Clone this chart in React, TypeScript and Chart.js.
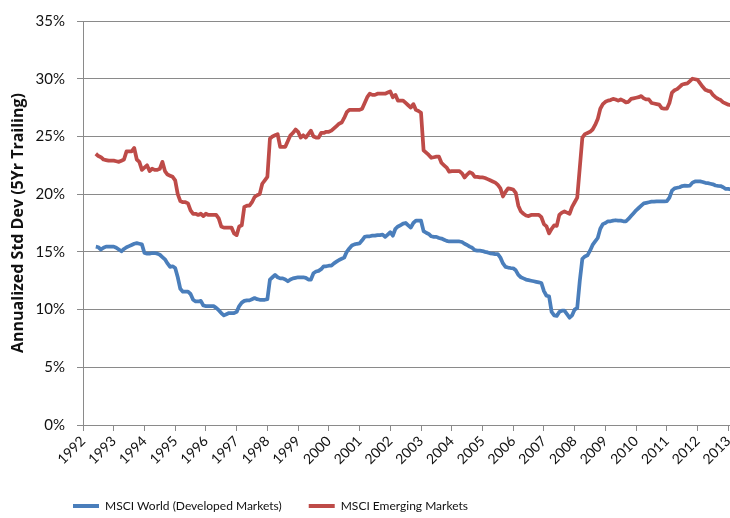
import React, { useEffect, useRef } from "react";
import { Chart, registerables } from "chart.js";

Chart.register(...registerables);

// Monthly series, first value = June 1992 (month index 5 counted from Jan 1992)
const startYear = 1992;
const startMonthIndex = 5;

const worldValues: number[] = [
  15.45, 15.4, 15.2, 15.35, 15.45, 15.45, 15.45, 15.45, 15.35, 15.2,
  15.05, 15.25, 15.4, 15.5, 15.6, 15.7, 15.75, 15.7, 15.65, 14.9,
  14.85, 14.85, 14.9, 14.9, 14.85, 14.75, 14.55, 14.35, 14.0, 13.7,
  13.75, 13.6, 12.8, 11.8, 11.55, 11.55, 11.55, 11.35, 10.85, 10.7,
  10.7, 10.75, 10.35, 10.3, 10.3, 10.3, 10.3, 10.15, 9.95, 9.7,
  9.5, 9.6, 9.7, 9.7, 9.7, 9.8, 10.3, 10.6, 10.75, 10.8,
  10.8, 10.9, 11.0, 10.9, 10.85, 10.85, 10.85, 10.9, 12.6, 12.8,
  13.0, 12.8, 12.7, 12.7, 12.6, 12.45, 12.6, 12.7, 12.75, 12.8,
  12.8, 12.8, 12.75, 12.6, 12.6, 13.15, 13.3, 13.35, 13.5, 13.75,
  13.75, 13.8, 13.8, 14.0, 14.15, 14.3, 14.4, 14.5, 15.0, 15.3,
  15.55, 15.65, 15.7, 15.73, 16.0, 16.3, 16.35, 16.35, 16.4, 16.4,
  16.45, 16.45, 16.5, 16.3, 16.5, 16.7, 16.4, 17.0, 17.2, 17.3,
  17.45, 17.5, 17.3, 17.1, 17.5, 17.7, 17.7, 17.7, 16.8, 16.65,
  16.55, 16.35, 16.3, 16.3, 16.2, 16.15, 16.05, 15.95, 15.9, 15.9,
  15.9, 15.9, 15.9, 15.85, 15.7, 15.6, 15.45, 15.35, 15.15, 15.1,
  15.1, 15.07, 15.0, 14.95, 14.87, 14.85, 14.8, 14.8, 14.5, 14.0,
  13.7, 13.64, 13.6, 13.58, 13.4, 13.0, 12.8, 12.7, 12.6, 12.55,
  12.5, 12.45, 12.4, 12.35, 12.3, 11.6, 11.2, 11.15, 9.8, 9.5,
  9.45, 9.8, 9.9, 9.9, 9.6, 9.3, 9.5, 10.0, 10.14, 12.5,
  14.4, 14.6, 14.7, 15.1, 15.6, 15.9, 16.2, 17.0, 17.4, 17.5,
  17.65, 17.65, 17.7, 17.74, 17.7, 17.7, 17.65, 17.65, 17.85, 18.1,
  18.35, 18.6, 18.8, 19.0, 19.2, 19.25, 19.3, 19.35, 19.35, 19.37,
  19.37, 19.37, 19.37, 19.4, 19.7, 20.3, 20.5, 20.55, 20.6, 20.7,
  20.74, 20.72, 20.74, 21.0, 21.1, 21.1, 21.1, 21.05, 20.98, 20.95,
  20.9, 20.85, 20.75, 20.72, 20.7, 20.6, 20.45, 20.45, 20.4,
];

const emergingValues: number[] = [
  23.5, 23.3, 23.2, 23.0, 22.95, 22.9, 22.9, 22.9, 22.85, 22.8,
  22.9, 23.0, 23.7, 23.7, 23.7, 24.0, 23.0, 22.8, 22.1, 22.3,
  22.5, 22.0, 22.2, 22.1, 22.1, 22.2, 22.8, 22.0, 21.7, 21.6,
  21.5, 21.2, 20.0, 19.4, 19.3, 19.3, 19.2, 18.6, 18.3, 18.3,
  18.2, 18.3, 18.1, 18.3, 18.2, 18.2, 18.2, 18.2, 17.9, 17.2,
  17.1, 17.1, 17.1, 17.1, 16.6, 16.45, 17.2, 17.3, 18.9, 19.0,
  19.0, 19.3, 19.75, 19.9, 20.0, 20.9, 21.2, 21.5, 24.8, 25.0,
  25.1, 25.2, 24.1, 24.1, 24.1, 24.6, 25.1, 25.3, 25.6, 25.4,
  24.9, 25.1, 24.9, 25.2, 25.5, 25.0, 24.9, 24.9, 25.3, 25.3,
  25.4, 25.4, 25.5, 25.7, 25.9, 26.1, 26.2, 26.6, 27.1, 27.3,
  27.3, 27.3, 27.3, 27.3, 27.4, 27.9, 28.4, 28.7, 28.6, 28.6,
  28.7, 28.7, 28.7, 28.7, 28.8, 28.9, 28.4, 28.6, 28.1, 28.1,
  28.1, 27.9, 27.7, 27.5, 27.8, 27.3, 27.2, 27.05, 23.8, 23.6,
  23.4, 23.15, 23.2, 23.25, 23.25, 22.7, 22.5, 22.3, 21.95, 22.0,
  22.0, 22.0, 22.0, 21.8, 21.45, 21.7, 21.9, 21.8, 21.5, 21.5,
  21.45, 21.45, 21.4, 21.3, 21.2, 21.1, 21.0, 20.8, 20.5, 19.8,
  20.2, 20.5, 20.45, 20.4, 20.1, 19.0, 18.5, 18.3, 18.15, 18.1,
  18.2, 18.2, 18.2, 18.2, 18.0, 17.4, 17.2, 16.6, 17.0, 17.3,
  17.25, 18.2, 18.4, 18.5, 18.4, 18.3, 18.9, 19.3, 19.7, 22.3,
  24.9, 25.2, 25.3, 25.4, 25.6, 26.0, 26.5, 27.4, 27.8, 28.0,
  28.1, 28.15, 28.25, 28.2, 28.1, 28.2, 28.1, 27.95, 28.0, 28.25,
  28.3, 28.35, 28.4, 28.5, 28.3, 28.2, 28.2, 27.9, 27.85, 27.8,
  27.75, 27.45, 27.4, 27.4, 27.9, 28.8, 29.0, 29.1, 29.3, 29.5,
  29.55, 29.6, 29.8, 30.0, 29.95, 29.9, 29.6, 29.3, 29.05, 28.95,
  28.9, 28.6, 28.4, 28.25, 28.15, 27.95, 27.85, 27.75, 27.7,
];

const yearTicks: number[] = [
  1992, 1993, 1994, 1995, 1996, 1997, 1998, 1999, 2000, 2001, 2002,
  2003, 2004, 2005, 2006, 2007, 2008, 2009, 2010, 2011, 2012, 2013,
];

const seriesNames = ["MSCI World (Developed Markets)", "MSCI Emerging Markets"];
const yAxisTitle = "Annualized Std Dev (5Yr Trailing)";

const BLUE = "#4A7EBB";
const RED = "#BE4B48";
const GRID = "#8a8a8a";
const FONT = "Lato";

const toPoints = (vals: number[]) =>
  vals.map((v, i) => ({ x: startYear + (startMonthIndex + i) / 12, y: v }));

const LEGEND_X = 73;
const LEGEND_Y = 506;

const legendPlacer = {
  id: "legendPlacer",
  afterLayout(chart: any) {
    const lg = chart.legend;
    if (!lg) return;
    const pad = lg.options.labels.padding;
    const fs = lg.options.labels.font.size;
    const h = lg.bottom - lg.top;
    const w = lg.right - lg.left;
    lg.left = LEGEND_X - pad;
    lg.right = lg.left + w;
    lg.top = LEGEND_Y - pad - fs / 2;
    lg.bottom = lg.top + h;
  },
};

export default function App() {
  const ref = useRef<HTMLCanvasElement | null>(null);

  useEffect(() => {
    if (!ref.current) return;
    const chart = new Chart(ref.current, {
      type: "line",
      data: {
        datasets: [
          {
            label: seriesNames[0],
            data: toPoints(worldValues),
            borderColor: BLUE,
            backgroundColor: BLUE,
            borderWidth: 3.75,
            pointRadius: 0,
            tension: 0,
            borderJoinStyle: "round",
          },
          {
            label: seriesNames[1],
            data: toPoints(emergingValues),
            borderColor: RED,
            backgroundColor: RED,
            borderWidth: 3.75,
            pointRadius: 0,
            tension: 0,
            borderJoinStyle: "round",
          },
        ],
      },
      options: {
        responsive: false,
        animation: false,
        layout: { padding: { left: 6, top: 17, right: 10, bottom: 0 } },
        plugins: {
          tooltip: { enabled: false },
          legend: {
            position: "bottom",
            align: "start",
            labels: {
              font: { family: FONT, size: 12 },
              color: "#111",
              boxWidth: 26,
              boxHeight: 4,
              padding: 27,
              generateLabels: (c: any) =>
                Chart.defaults.plugins.legend.labels
                  .generateLabels(c)
                  .map((l: any) => ({ ...l, lineWidth: 0 })),
            },
          },
        },
        scales: {
          x: {
            type: "linear",
            min: 1992,
            max: 2013.25,
            afterBuildTicks: (s: any) => {
              s.ticks = yearTicks.map((v) => ({ value: v }));
            },
            afterFit: (s: any) => {
              s.height = 44;
            },
            ticks: {
              autoSkip: false,
              maxRotation: 45,
              minRotation: 45,
              padding: 2,
              color: "#111",
              font: { family: FONT, size: 14 },
              callback: (v: any) => String(v),
            },
            grid: {
              drawOnChartArea: false,
              drawTicks: true,
              tickLength: 6,
              color: GRID,
            },
            border: { display: true, color: GRID, width: 1 },
          },
          y: {
            min: 0,
            max: 35,
            afterFit: (s: any) => {
              s.width = 77;
            },
            ticks: {
              stepSize: 5,
              padding: 12,
              color: "#111",
              font: { family: FONT, size: 15 },
              callback: (v: any) => v + "%",
            },
            grid: { color: GRID, tickLength: 6, lineWidth: 1 },
            border: { display: true, color: GRID, width: 1 },
            title: {
              display: true,
              text: yAxisTitle,
              color: "#111",
              font: { family: "'Open Sans'", size: 16, weight: "bold" },
              padding: { top: 3, bottom: 0 },
            },
          },
        },
      },
      plugins: [legendPlacer],
    } as any);
    return () => chart.destroy();
  }, []);

  return (
    <div style={{ position: "fixed", left: 0, top: 0, width: 746, height: 518, background: "#fff" }}>
      <canvas ref={ref} width={746} height={518} style={{ display: "block" }} />
    </div>
  );
}
